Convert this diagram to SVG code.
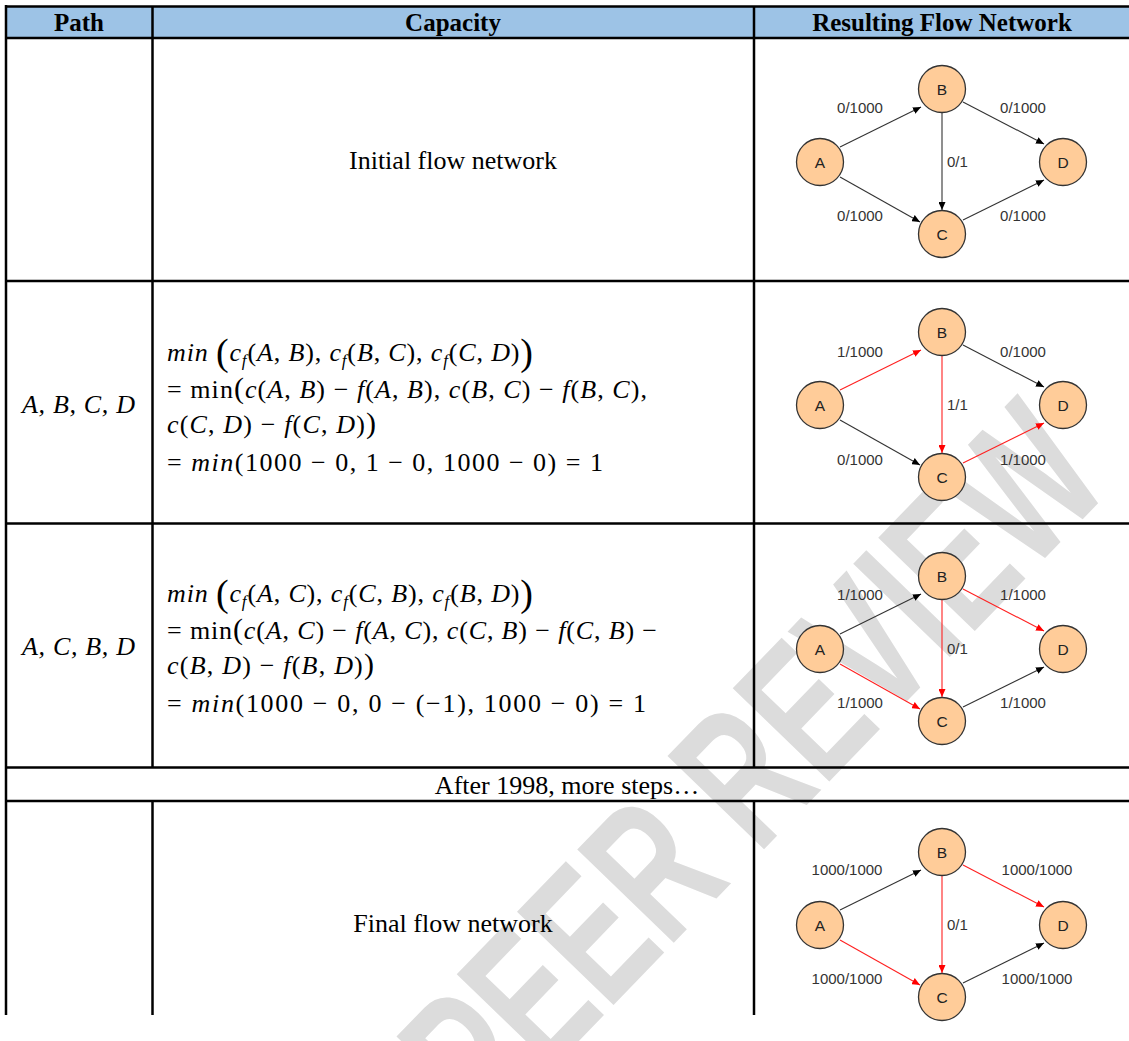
<svg xmlns="http://www.w3.org/2000/svg" width="1129" height="1041" viewBox="0 0 1129 1041">
<style>
.grid{stroke:#000;stroke-width:2.5;fill:none}
.hdr{font-family:"Liberation Serif",serif;font-weight:bold;font-size:25px;fill:#000;text-anchor:middle}
.body{font-family:"Liberation Serif",serif;font-size:26px;fill:#000}
.it{font-style:italic}
.math{font-family:"Liberation Serif",serif;font-size:26px;fill:#000}
.node circle{fill:#FFCC99;stroke:#333;stroke-width:1.3}
.node text{font-family:"Liberation Sans",Arial,sans-serif;font-size:15.5px;fill:#222;text-anchor:middle}
.lbl{font-family:"Liberation Sans",Arial,sans-serif;font-size:15px;fill:#333}
.e{stroke:#333;stroke-width:1.1;fill:none;marker-end:url(#ab)}
.r{stroke:#ff2020;stroke-width:1.1;fill:none;marker-end:url(#ar)}
.wm{font-family:"Liberation Sans",Arial,sans-serif;font-size:130px;font-weight:bold;fill:#dcdcdc}
</style>
<defs>
<marker id="ab" markerWidth="8" markerHeight="7" refX="8" refY="3.5" orient="auto" markerUnits="userSpaceOnUse"><path d="M0,0 L8,3.5 L0,7 Z" fill="#000"/></marker>
<marker id="ar" markerWidth="8" markerHeight="7" refX="8" refY="3.5" orient="auto" markerUnits="userSpaceOnUse"><path d="M0,0 L8,3.5 L0,7 Z" fill="#ff0000"/></marker>
</defs>
<rect x="0" y="0" width="1129" height="1041" fill="#fff"/>
<text class="wm" transform="translate(487,1136) rotate(-46) scale(1,1.5)">PEER REVIEW</text>
<rect x="6" y="6.5" width="1124" height="31.5" fill="#9DC3E6"/>
<g id="table" class="grid">
<line x1="5" y1="6.5" x2="1130" y2="6.5"/>
<line x1="5" y1="38" x2="1130" y2="38"/>
<line x1="5" y1="281" x2="1130" y2="281"/>
<line x1="5" y1="523.5" x2="1130" y2="523.5"/>
<line x1="5" y1="767.5" x2="1130" y2="767.5"/>
<line x1="5" y1="801" x2="1130" y2="801"/>
<line x1="6" y1="5" x2="6" y2="1015"/>
<line x1="152.5" y1="6.5" x2="152.5" y2="767.5"/>
<line x1="152.5" y1="801" x2="152.5" y2="1015"/>
<line x1="754" y1="6.5" x2="754" y2="767.5"/>
<line x1="754" y1="801" x2="754" y2="1015"/>
</g>
<g id="header">
<text class="hdr" x="79" y="31">Path</text>
<text class="hdr" x="453" y="31">Capacity</text>
<text class="hdr" x="942" y="31">Resulting Flow Network</text>
</g>
<g id="row1">
<text class="body" x="453" y="169" text-anchor="middle">Initial flow network</text>
</g>
<g id="row2">
<text class="body it" x="22" y="413" textLength="113" lengthAdjust="spacing">A, B, C, D</text>
<text class="math" x="167" y="361" textLength="366" lengthAdjust="spacing"><tspan font-style="italic">min</tspan> <tspan font-size="38" dy="4">(</tspan><tspan dy="-4" font-style="italic">c</tspan><tspan font-style="italic" font-size="17" dy="5">f</tspan><tspan dy="-5">(</tspan><tspan font-style="italic">A</tspan>, <tspan font-style="italic">B</tspan>), <tspan font-style="italic">c</tspan><tspan font-style="italic" font-size="17" dy="5">f</tspan><tspan dy="-5">(</tspan><tspan font-style="italic">B</tspan>, <tspan font-style="italic">C</tspan>), <tspan font-style="italic">c</tspan><tspan font-style="italic" font-size="17" dy="5">f</tspan><tspan dy="-5">(</tspan><tspan font-style="italic">C</tspan>, <tspan font-style="italic">D</tspan>)<tspan font-size="38" dy="4">)</tspan></text>
<text class="math" x="167" y="398" textLength="480" lengthAdjust="spacing">= min<tspan font-size="30">(</tspan><tspan font-style="italic">c</tspan>(<tspan font-style="italic">A</tspan>, <tspan font-style="italic">B</tspan>) − <tspan font-style="italic">f</tspan>(<tspan font-style="italic">A</tspan>, <tspan font-style="italic">B</tspan>), <tspan font-style="italic">c</tspan>(<tspan font-style="italic">B</tspan>, <tspan font-style="italic">C</tspan>) − <tspan font-style="italic">f</tspan>(<tspan font-style="italic">B</tspan>, <tspan font-style="italic">C</tspan>),</text>
<text class="math" x="167" y="433" textLength="209" lengthAdjust="spacing"><tspan font-style="italic">c</tspan>(<tspan font-style="italic">C</tspan>, <tspan font-style="italic">D</tspan>) − <tspan font-style="italic">f</tspan>(<tspan font-style="italic">C</tspan>, <tspan font-style="italic">D</tspan>)<tspan font-size="30">)</tspan></text>
<text class="math" x="167" y="471" textLength="436" lengthAdjust="spacing">= <tspan font-style="italic">min</tspan>(1000 − 0, 1 − 0, 1000 − 0) = 1</text>
</g>
<g id="row3">
<text class="body it" x="22" y="655" textLength="113" lengthAdjust="spacing">A, C, B, D</text>
<text class="math" x="167" y="602" textLength="366" lengthAdjust="spacing"><tspan font-style="italic">min</tspan> <tspan font-size="38" dy="4">(</tspan><tspan dy="-4" font-style="italic">c</tspan><tspan font-style="italic" font-size="17" dy="5">f</tspan><tspan dy="-5">(</tspan><tspan font-style="italic">A</tspan>, <tspan font-style="italic">C</tspan>), <tspan font-style="italic">c</tspan><tspan font-style="italic" font-size="17" dy="5">f</tspan><tspan dy="-5">(</tspan><tspan font-style="italic">C</tspan>, <tspan font-style="italic">B</tspan>), <tspan font-style="italic">c</tspan><tspan font-style="italic" font-size="17" dy="5">f</tspan><tspan dy="-5">(</tspan><tspan font-style="italic">B</tspan>, <tspan font-style="italic">D</tspan>)<tspan font-size="38" dy="4">)</tspan></text>
<text class="math" x="167" y="639" textLength="490" lengthAdjust="spacing">= min<tspan font-size="30">(</tspan><tspan font-style="italic">c</tspan>(<tspan font-style="italic">A</tspan>, <tspan font-style="italic">C</tspan>) − <tspan font-style="italic">f</tspan>(<tspan font-style="italic">A</tspan>, <tspan font-style="italic">C</tspan>), <tspan font-style="italic">c</tspan>(<tspan font-style="italic">C</tspan>, <tspan font-style="italic">B</tspan>) − <tspan font-style="italic">f</tspan>(<tspan font-style="italic">C</tspan>, <tspan font-style="italic">B</tspan>) −</text>
<text class="math" x="167" y="674" textLength="207" lengthAdjust="spacing"><tspan font-style="italic">c</tspan>(<tspan font-style="italic">B</tspan>, <tspan font-style="italic">D</tspan>) − <tspan font-style="italic">f</tspan>(<tspan font-style="italic">B</tspan>, <tspan font-style="italic">D</tspan>)<tspan font-size="30">)</tspan></text>
<text class="math" x="167" y="712" textLength="479" lengthAdjust="spacing">= <tspan font-style="italic">min</tspan>(1000 − 0, 0 − (−1), 1000 − 0) = 1</text>
</g>
<g id="row-sep">
<text class="body" x="567" y="794" text-anchor="middle">After 1998, more steps…</text>
</g>
<g id="row4">
<text class="body" x="453" y="932" text-anchor="middle">Final flow network</text>
</g>
<g id="connectors">
<path class="e" d="M840,147 L921,107"/>
<path class="e" d="M963,102 L1044,144"/>
<path class="e" d="M942,113 L942,210"/>
<path class="e" d="M840,177 L920,222"/>
<path class="e" d="M963,220 L1044,180"/>
<path class="r" d="M840,390 L921,350"/>
<path class="e" d="M963,345 L1044,387"/>
<path class="r" d="M942,356 L942,453"/>
<path class="e" d="M840,420 L920,465"/>
<path class="r" d="M963,463 L1044,423"/>
<path class="e" d="M840,634 L921,594"/>
<path class="r" d="M963,589 L1044,631"/>
<path class="r" d="M942,600 L942,697"/>
<path class="r" d="M840,664 L920,709"/>
<path class="e" d="M963,707 L1044,667"/>
<path class="e" d="M840,910 L921,870"/>
<path class="r" d="M963,865 L1044,907"/>
<path class="r" d="M942,876 L942,973"/>
<path class="r" d="M840,940 L920,985"/>
<path class="e" d="M963,983 L1044,943"/>
</g>
<g id="labels" class="lbl">
<text x="860" y="113" text-anchor="middle">0/1000</text>
<text x="1023" y="113" text-anchor="middle">0/1000</text>
<text x="947" y="167">0/1</text>
<text x="860" y="221" text-anchor="middle">0/1000</text>
<text x="1023" y="221" text-anchor="middle">0/1000</text>
<text x="860" y="357" text-anchor="middle">1/1000</text>
<text x="1023" y="357" text-anchor="middle">0/1000</text>
<text x="947" y="410">1/1</text>
<text x="860" y="465" text-anchor="middle">0/1000</text>
<text x="1023" y="465" text-anchor="middle">1/1000</text>
<text x="860" y="600" text-anchor="middle">1/1000</text>
<text x="1023" y="600" text-anchor="middle">1/1000</text>
<text x="947" y="654">0/1</text>
<text x="860" y="708" text-anchor="middle">1/1000</text>
<text x="1023" y="708" text-anchor="middle">1/1000</text>
<text x="847" y="875" text-anchor="middle">1000/1000</text>
<text x="1037" y="875" text-anchor="middle">1000/1000</text>
<text x="947" y="930">0/1</text>
<text x="847" y="984" text-anchor="middle">1000/1000</text>
<text x="1037" y="984" text-anchor="middle">1000/1000</text>
</g>
<g id="n1A" class="node"><circle cx="820" cy="162" r="23.5"/><text x="820" y="167.5">A</text></g>
<g id="n1B" class="node"><circle cx="942" cy="89" r="23.5"/><text x="942" y="94.5">B</text></g>
<g id="n1C" class="node"><circle cx="942" cy="234" r="23.5"/><text x="942" y="239.5">C</text></g>
<g id="n1D" class="node"><circle cx="1063" cy="162" r="23.5"/><text x="1063" y="167.5">D</text></g>
<g id="n2A" class="node"><circle cx="820" cy="405" r="23.5"/><text x="820" y="410.5">A</text></g>
<g id="n2B" class="node"><circle cx="942" cy="332" r="23.5"/><text x="942" y="337.5">B</text></g>
<g id="n2C" class="node"><circle cx="942" cy="477" r="23.5"/><text x="942" y="482.5">C</text></g>
<g id="n2D" class="node"><circle cx="1063" cy="405" r="23.5"/><text x="1063" y="410.5">D</text></g>
<g id="n3A" class="node"><circle cx="820" cy="649" r="23.5"/><text x="820" y="654.5">A</text></g>
<g id="n3B" class="node"><circle cx="942" cy="576" r="23.5"/><text x="942" y="581.5">B</text></g>
<g id="n3C" class="node"><circle cx="942" cy="721" r="23.5"/><text x="942" y="726.5">C</text></g>
<g id="n3D" class="node"><circle cx="1063" cy="649" r="23.5"/><text x="1063" y="654.5">D</text></g>
<g id="n4A" class="node"><circle cx="820" cy="925" r="23.5"/><text x="820" y="930.5">A</text></g>
<g id="n4B" class="node"><circle cx="942" cy="852" r="23.5"/><text x="942" y="857.5">B</text></g>
<g id="n4C" class="node"><circle cx="942" cy="997" r="23.5"/><text x="942" y="1002.5">C</text></g>
<g id="n4D" class="node"><circle cx="1063" cy="925" r="23.5"/><text x="1063" y="930.5">D</text></g>
</svg>
